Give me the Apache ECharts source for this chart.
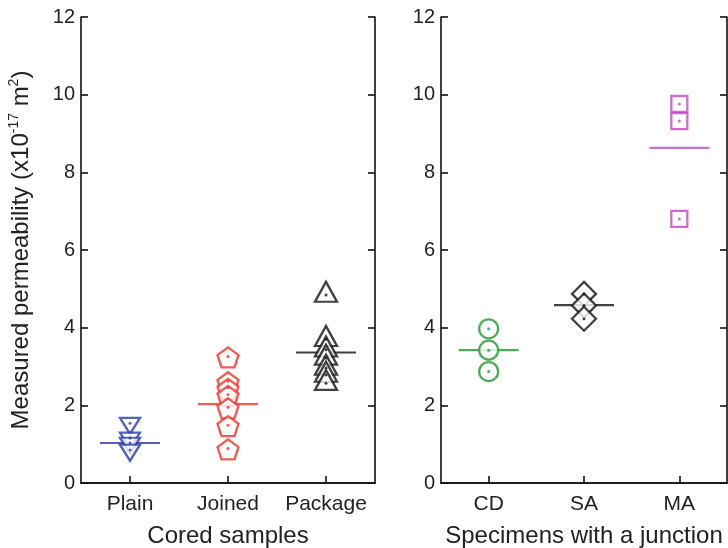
<!DOCTYPE html>
<html>
<head>
<meta charset="utf-8">
<script src="https://cdn.jsdelivr.net/npm/echarts@6/dist/echarts.min.js"></script>
<style>
html,body{margin:0;padding:0;background:#fff;}
#chart{width:728px;height:548px;}
</style>
</head>
<body>
<div id="chart"></div>
<script>
// ---- data ----
const leftCategories = ['Plain', 'Joined', 'Package'];
const rightCategories = ['CD', 'SA', 'MA'];
const yMin = 0, yMax = 12, yInterval = 2;

const plainValues   = [1.54, 1.16, 1.03, 0.85];
const joinedValues  = [3.26, 2.62, 2.45, 2.27, 1.95, 1.49, 0.89];
const packageValues = [4.84, 3.70, 3.43, 3.22, 2.96, 2.78, 2.57];
const cdValues = [3.97, 3.42, 2.87];
const saValues = [4.87, 4.57, 4.23];
const maValues = [9.76, 9.32, 6.80];

const leftMeans  = [1.03, 2.03, 3.36];
const rightMeans = [3.42, 4.58, 8.63];

// ---- styles ----
const pentagon = 'path://M0,-1L0.951,-0.309L0.588,0.809L-0.588,0.809L-0.951,-0.309Z';
const groupStyle = {
  Plain:   {color:'#2b3a9f', symbol:'triangle', size:[20,16], rotate:180, offset:[0,2.7]},
  Joined:  {color:'#e8352b', symbol:pentagon,   size:[21,20], rotate:0, offset:[0,1]},
  Package: {color:'#111111', symbol:'triangle', size:[22,20], rotate:0, offset:[0,-3.3]},
  CD:      {color:'#27962f', symbol:'circle',   size:19, rotate:0, offset:[0,0]},
  SA:      {color:'#111111', symbol:'diamond',  size:24, rotate:0, offset:[0,0]},
  MA:      {color:'#c24abd', symbol:'rect',     size:16, rotate:0, offset:[0,0]}
};

const font = "'Liberation Sans', Arial, sans-serif";
const series = [];

function addGroup(name, catIndex, values, mean, axisIdx) {
  const st = groupStyle[name];
  series.push({
    type:'scatter', name: name + ' mean', xAxisIndex: axisIdx*2, yAxisIndex: axisIdx*2,
    data: [[catIndex, mean]], symbol:'rect', symbolSize:[60,2.2],
    itemStyle:{color: st.color}, silent:true, z:2
  });
  series.push({
    type:'scatter', name: name, xAxisIndex: axisIdx*2, yAxisIndex: axisIdx*2,
    data: values.map(v => [catIndex, v]),
    symbol: st.symbol, symbolSize: st.size, symbolRotate: st.rotate, symbolOffset: st.offset,
    itemStyle:{color:'#ffffff', borderColor: st.color, borderWidth: 2.3},
    silent:true, z:3
  });
  series.push({
    type:'scatter', name: name + ' dot', xAxisIndex: axisIdx*2, yAxisIndex: axisIdx*2,
    data: values.map(v => [catIndex, v]),
    symbol:'circle', symbolSize:3,
    itemStyle:{color: st.color}, silent:true, z:4
  });
}

addGroup('Plain', 0, plainValues, leftMeans[0], 0);
addGroup('Joined', 1, joinedValues, leftMeans[1], 0);
addGroup('Package', 2, packageValues, leftMeans[2], 0);
addGroup('CD', 0, cdValues, rightMeans[0], 1);
addGroup('SA', 1, saValues, rightMeans[1], 1);
addGroup('MA', 2, maValues, rightMeans[2], 1);

const lineStyle = {color:'#111', width:1.6};

function xAxes(gridIndex, cats, title) {
  return [{
    type:'category', gridIndex, data: cats, boundaryGap:true,
    axisLine:{show:true, lineStyle},
    axisTick:{show:true, inside:true, alignWithLabel:true, length:7, lineStyle},
    axisLabel:{fontSize:21, color:'#222', margin:11, fontFamily:font, interval:0},
    splitLine:{show:false},
    name:title, nameLocation:'middle', nameGap:41,
    nameTextStyle:{fontSize:24, color:'#222', fontFamily:font}
  },{
    type:'category', gridIndex, data: cats, position:'top', boundaryGap:true,
    axisLine:{show:true, lineStyle}, axisTick:{show:false}, axisLabel:{show:false}, splitLine:{show:false}
  }];
}
function yAxes(gridIndex, withName) {
  const left = {
    type:'value', gridIndex, min:yMin, max:yMax, interval:yInterval,
    axisLine:{show:true, lineStyle},
    axisTick:{show:true, inside:true, length:7, lineStyle},
    axisLabel:{fontSize:20, color:'#222', margin:6, fontFamily:font},
    splitLine:{show:false}
  };
  if (withName) {
    left.name = 'Measured permeability (x10{sup|-17} m{sup|2})';
    left.nameLocation = 'middle';
    left.nameGap = 46;
    left.nameTextStyle = {fontSize:24, color:'#222', fontFamily:font, lineHeight:28,
      rich:{sup:{fontSize:14, fontFamily:font, color:'#222', verticalAlign:'top', lineHeight:16}}};
  }
  const right = {
    type:'value', gridIndex, min:yMin, max:yMax, interval:yInterval, position:'right',
    axisLine:{show:true, lineStyle},
    axisTick:{show:true, inside:true, length:7, lineStyle},
    axisLabel:{show:false}, splitLine:{show:false}
  };
  return [left, right];
}

const chart = echarts.init(document.getElementById('chart'), null, {renderer:'canvas'});
chart.setOption({
  animation:false,
  backgroundColor:'#ffffff',
  textStyle:{fontFamily:font},
  grid:[
    {left:81, right:353, top:17, bottom:65, containLabel:false, outerBoundsMode:'none'},
    {left:441, right:1, top:17, bottom:65, containLabel:false, outerBoundsMode:'none'}
  ],
  xAxis:[...xAxes(0, leftCategories, 'Cored samples'), ...xAxes(1, rightCategories, 'Specimens with a junction')],
  yAxis:[...yAxes(0, true), ...yAxes(1, false)],
  series: series
});
</script>
</body>
</html>
